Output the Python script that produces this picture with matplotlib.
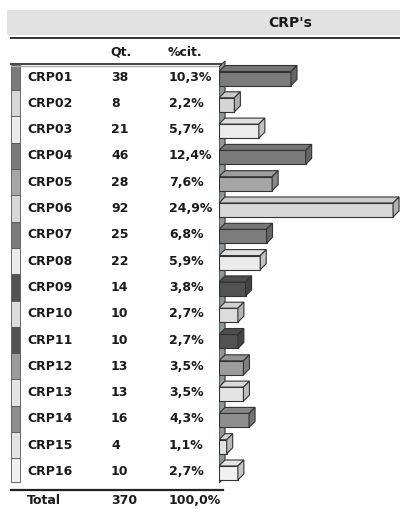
import matplotlib
matplotlib.use("Agg")
import matplotlib.pyplot as plt
from matplotlib.patches import Rectangle, Polygon
from matplotlib.colors import to_rgb

# data
labels = ["CRP01", "CRP02", "CRP03", "CRP04", "CRP05", "CRP06", "CRP07", "CRP08",
          "CRP09", "CRP10", "CRP11", "CRP12", "CRP13", "CRP14", "CRP15", "CRP16"]
counts = [38, 8, 21, 46, 28, 92, 25, 22, 14, 10, 10, 13, 13, 16, 4, 10]
pct = [10.3, 2.2, 5.7, 12.4, 7.6, 24.9, 6.8, 5.9, 3.8, 2.7, 2.7, 3.5, 3.5, 4.3, 1.1, 2.7]
total_count = 370
total_pct = "100,0%"
title = "CRP's"
col_headers = ["Qt.", "%cit."]
colors = ["#7b7b7b", "#d6d6d6", "#ececec", "#7a7a7a", "#a6a6a6", "#d8d8d8",
          "#7c7c7c", "#ebebeb", "#525252", "#dcdcdc", "#525252", "#9c9c9c",
          "#e4e4e4", "#8e8e8e", "#e2e2e2", "#f0f0f0"]

W, H = 400, 509
fig = plt.figure(figsize=(W / 100, H / 100), dpi=100)
ax = fig.add_axes([0, 0, 1, 1])
ax.set_xlim(0, W)
ax.set_ylim(H, 0)
ax.axis("off")

font = dict(family="DejaVu Sans", fontweight="bold", fontsize=9, color="#1a1a1a")

# title band
ax.add_patch(Rectangle((7, 10), W - 7, 25, facecolor="#e2e2e2", edgecolor="none"))
ax.text(290, 23, title, ha="center", va="center", **{**font, "fontsize": 10})
ax.plot([11, W], [37.5, 37.5], color="#222", lw=1.3)

# column headers
ax.text(110, 52, col_headers[0], ha="left", va="center", **font)
ax.text(168, 52, col_headers[1], ha="left", va="center", **font)
ax.plot([11, 221], [63.5, 63.5], color="#444", lw=1.4)
ax.plot([11, 221], [65.5, 65.5], color="#aaa", lw=1.0)

# rows
y0, step = 77, 26.3
n = len(labels)
row_y = [y0 + i * step for i in range(n)]
bounds = [65] + [(row_y[i] + row_y[i + 1]) / 2 for i in range(n - 1)] + [482]
for i, lab in enumerate(labels):
    ax.add_patch(Rectangle((11, bounds[i]), 9, bounds[i + 1] - bounds[i],
                           facecolor=colors[i], edgecolor="#555", lw=0.6))
    ax.text(27, row_y[i], lab, ha="left", va="center", **font)
    ax.text(111, row_y[i], str(counts[i]), ha="left", va="center", **font)
    ax.text(169, row_y[i], f"{pct[i]:.1f}%".replace(".", ","), ha="left", va="center", **font)

# total row
ax.plot([11, 223], [490, 490], color="#222", lw=1.6)
ax.text(27, 501, "Total", ha="left", va="center", **font)
ax.text(111, 501, str(total_count), ha="left", va="center", **font)
ax.text(169, 501, total_pct, ha="left", va="center", **font)

# bar chart
px_per_pct = 6.99
bx0, btop, bbot = 219, 60, 490
axb = fig.add_axes([bx0 / W, 1 - bbot / H, (W - bx0) / W, (bbot - btop) / H])
axb.set_xlim(0, (W - bx0) / px_per_pct)
axb.set_ylim((bbot - y0) / step, (btop - y0) / step)
axb.axis("off")

dx = 6 / px_per_pct
dy = -6 / step
hh = 7 / step

# wall
wt, wb = (67 - y0) / step, (483 - y0) / step
axb.add_patch(Polygon([(0, wt), (dx, wt + dy), (dx, wb + dy), (0, wb)],
                      facecolor="#8c9799", edgecolor="#333", lw=0.8))


def shade(c, f):
    r, g, b = to_rgb(c)
    return (r * f, g * f, b * f)


for i, v in enumerate(pct):
    c = colors[i]
    yt, yb = i - hh + 1.5 / step, i + hh + 1.5 / step
    axb.barh((yt + yb) / 2, v, height=2 * hh, left=0, color=c, edgecolor="#333", lw=0.8)
    axb.add_patch(Polygon([(0, yt), (v, yt), (v + dx, yt + dy), (dx, yt + dy)],
                          facecolor=shade(c, 0.95), edgecolor="#333", lw=0.8))
    axb.add_patch(Polygon([(v, yt), (v + dx, yt + dy), (v + dx, yb + dy), (v, yb)],
                          facecolor=shade(c, 0.82), edgecolor="#333", lw=0.8))

fig.savefig("out.png", dpi=100)
